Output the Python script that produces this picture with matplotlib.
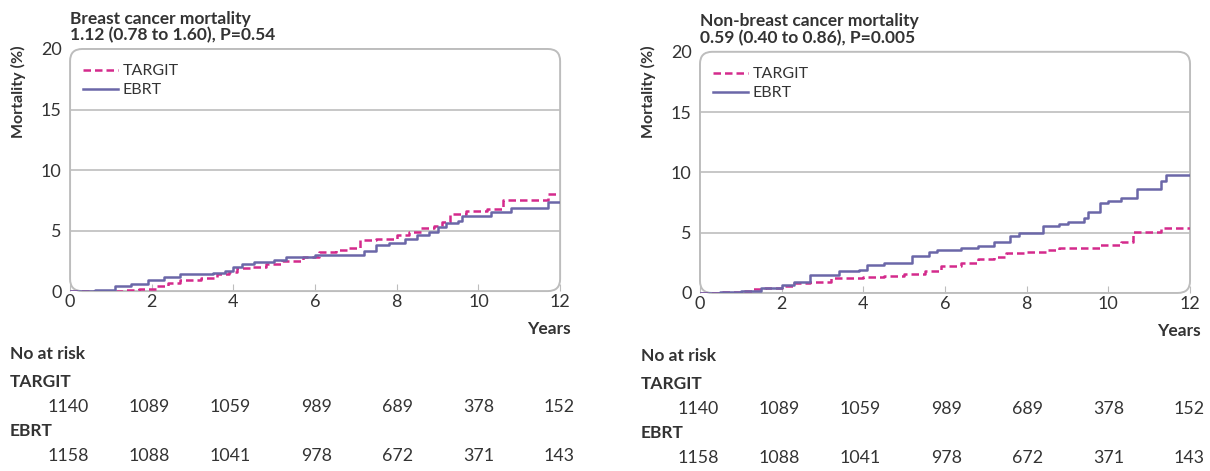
import matplotlib.pyplot as plt
from matplotlib.patches import FancyBboxPatch

plt.rcParams['font.family'] = ['Lato', 'DejaVu Sans']

# breast cancer mortality (left)
bc_targit_t = [0, 1.3, 1.7, 2.1, 2.4, 2.7, 3.2, 3.6, 3.9, 4.1, 4.4, 4.8, 5.2, 5.7, 6.1, 6.5,
               6.8, 7.1, 7.5, 8.0, 8.3, 8.6, 8.9, 9.1, 9.3, 9.7, 10.2, 10.6, 11.7, 12]
bc_targit_v = [0, 0.1, 0.2, 0.4, 0.7, 0.9, 1.1, 1.4, 1.6, 1.9, 2.0, 2.2, 2.5, 2.8, 3.2, 3.4,
               3.6, 4.2, 4.3, 4.6, 4.9, 5.2, 5.4, 5.7, 6.4, 6.6, 6.8, 7.5, 8.0, 8.0]
bc_ebrt_t = [0, 0.6, 1.1, 1.5, 1.9, 2.3, 2.7, 3.5, 3.8, 4.0, 4.2, 4.5, 5.0, 5.3, 6.0, 6.9,
             7.2, 7.5, 7.8, 8.2, 8.5, 8.8, 9.0, 9.2, 9.5, 9.6, 10.3, 10.8, 11.7, 12]
bc_ebrt_v = [0, 0.1, 0.4, 0.6, 0.9, 1.2, 1.4, 1.5, 1.7, 2.0, 2.2, 2.4, 2.6, 2.8, 3.0, 3.0,
             3.3, 3.8, 4.0, 4.3, 4.6, 4.9, 5.3, 5.6, 5.8, 6.2, 6.5, 6.9, 7.4, 7.4]

# non-breast cancer mortality (right)
nb_targit_t = [0, 0.5, 1.0, 1.3, 1.6, 2.0, 2.3, 2.7, 3.2, 4.0, 4.5, 5.0, 5.5, 5.9, 6.4, 6.8,
               7.2, 7.5, 8.0, 8.5, 8.8, 9.8, 10.3, 10.6, 11.3, 12]
nb_targit_v = [0, 0.1, 0.2, 0.3, 0.4, 0.6, 0.8, 0.9, 1.2, 1.3, 1.4, 1.6, 1.8, 2.2, 2.5, 2.8,
               3.0, 3.3, 3.4, 3.6, 3.75, 4.0, 4.2, 5.05, 5.4, 5.4]
nb_ebrt_t = [0, 0.5, 1.0, 1.5, 2.0, 2.3, 2.7, 3.1, 3.4, 3.9, 4.1, 4.5, 5.2, 5.6, 5.8, 6.4,
             6.8, 7.2, 7.6, 7.8, 8.4, 8.8, 9.0, 9.4, 9.5, 9.8, 10.0, 10.3, 10.7, 11.3, 11.4, 12]
nb_ebrt_v = [0, 0.1, 0.2, 0.4, 0.7, 0.9, 1.45, 1.5, 1.8, 1.9, 2.3, 2.5, 3.05, 3.4, 3.6, 3.7,
             3.9, 4.2, 4.7, 5.0, 5.55, 5.7, 5.9, 6.2, 6.7, 7.45, 7.6, 7.9, 8.6, 9.3, 9.75, 9.75]

risk_targit = ['1140', '1089', '1059', '989', '689', '378', '152']
risk_ebrt = ['1158', '1088', '1041', '978', '672', '371', '143']

titles = ['Breast cancer mortality\n1.12 (0.78 to 1.60), P=0.54',
          'Non-breast cancer mortality\n0.59 (0.40 to 0.86), P=0.005']

c_targit = '#d42a8c'
c_ebrt = '#6b67a8'
grey = '#bdbdbd'
txt = '#333333'

W, H = 1210, 471
fig = plt.figure(figsize=(12.1, 4.71), dpi=100)

panels = [
    ([0.0579, 0.382, 0.405, 0.514], bc_targit_t, bc_targit_v, bc_ebrt_t, bc_ebrt_v),
    ([0.5785, 0.378, 0.405, 0.512], nb_targit_t, nb_targit_v, nb_ebrt_t, nb_ebrt_v),
]

# number-at-risk columns (right edge, px), row offset and label x per panel
tab_x = [[89 + 81 * i for i in range(7)], [719 + 81 * i for i in range(7)]]
tab_dy = [0, 2]
lab_x = [10, 641]

for k, (rect, tt, tv, et, ev) in enumerate(panels):
    ax = fig.add_axes(rect)
    ax.step(tt, tv, where='post', color=c_targit, lw=1.8, ls=(0, (3, 1.6)), label='TARGIT')
    ax.step(et, ev, where='post', color=c_ebrt, lw=1.8, label='EBRT')
    ax.set_xlim(0, 12)
    ax.set_ylim(0, 20)
    ax.set_xticks(range(0, 13, 2))
    ax.set_yticks([0, 5, 10, 15, 20])
    for g in [5, 10, 15]:
        ax.axhline(g, color=grey, lw=1.2, zorder=0)
    for s in ax.spines.values():
        s.set_visible(False)
    # rounded frame
    box = FancyBboxPatch((0, 0), 1, 1, boxstyle='round,pad=0,rounding_size=0.025',
                         mutation_aspect=2.0, transform=ax.transAxes, fill=False,
                         ec=grey, lw=1.4, clip_on=False)
    ax.add_patch(box)
    ax.tick_params(axis='x', direction='in', length=5, color=grey, labelsize=13,
                   labelcolor=txt, pad=2)
    ax.tick_params(axis='y', length=0, labelsize=13, labelcolor=txt, pad=6)
    ax.text(0, 1.025, titles[k], transform=ax.transAxes, fontsize=12.5, fontweight='bold',
            color=txt, va='bottom', ha='left', linespacing=1.0)
    leg = ax.legend(loc='upper left', frameon=False, fontsize=11.5, handlelength=2.2,
                    handletextpad=0.3, labelspacing=0.3, borderaxespad=0.4,
                    bbox_to_anchor=(0.0, 0.99))
    for t in leg.get_texts():
        t.set_color(txt)

    x0 = rect[0] * W
    fig.text((x0 - 52) / W, 1 - 92 / H, 'Mortality (%)', rotation=90, ha='center',
             va='center', fontsize=11.5, fontweight='bold', color=txt)
    right = (rect[0] + rect[2]) * W
    dy = tab_dy[k]
    fig.text((right + 11) / W, 1 - (329 + dy) / H, 'Years', ha='right', va='center',
             fontsize=12.5, fontweight='bold', color=txt)
    fig.text(lab_x[k] / W, 1 - (354 + dy) / H, 'No at risk', ha='left', va='center',
             fontsize=12.5, fontweight='bold', color=txt)
    fig.text(lab_x[k] / W, 1 - (382 + dy) / H, 'TARGIT', ha='left', va='center',
             fontsize=12.5, fontweight='bold', color=txt)
    fig.text(lab_x[k] / W, 1 - (431 + dy) / H, 'EBRT', ha='left', va='center',
             fontsize=12.5, fontweight='bold', color=txt)
    for i in range(7):
        fig.text(tab_x[k][i] / W, 1 - (407 + dy) / H, risk_targit[i], ha='right',
                 va='center', fontsize=12.8, color=txt)
        fig.text(tab_x[k][i] / W, 1 - (456 + dy) / H, risk_ebrt[i], ha='right',
                 va='center', fontsize=12.8, color=txt)

fig.savefig('out.png', dpi=100)
